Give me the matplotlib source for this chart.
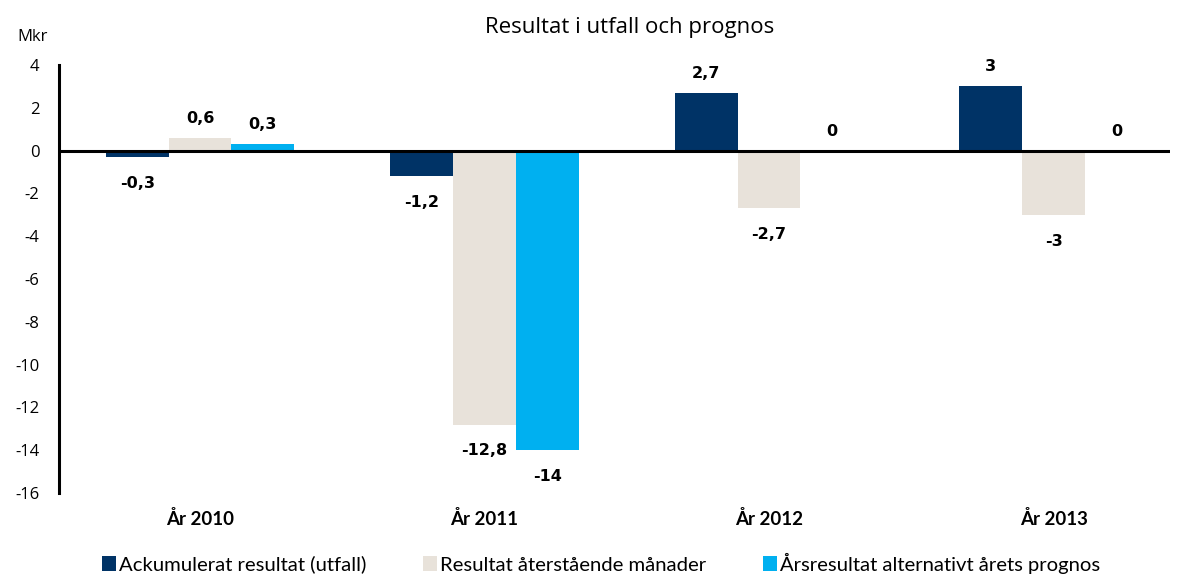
import matplotlib
matplotlib.use("Agg")
import matplotlib.pyplot as plt
import numpy as np
from matplotlib.patches import Patch

categories = ["År 2010", "År 2011", "År 2012", "År 2013"]
series_names = ["Ackumulerat resultat (utfall)", "Resultat återstående månader",
                "Årsresultat alternativt årets prognos"]
ackumulerat = [-0.3, -1.2, 2.7, 3.0]
aterstaende = [0.6, -12.8, -2.7, -3.0]
arsresultat = [0.3, -14.0, 0.0, 0.0]
label_ack = ["-0,3", "-1,2", "2,7", "3"]
label_ater = ["0,6", "-12,8", "-2,7", "-3"]
label_ars = ["0,3", "-14", "0", "0"]
yticks = [4, 2, 0, -2, -4, -6, -8, -10, -12, -14, -16]
colors = ["#003366", "#E8E2DA", "#00B0F0"]

fig = plt.figure(figsize=(11.84, 5.75), dpi=100)
ax = fig.add_axes([59/1184, 1-493/575, (1170-59)/1184, (493-65)/575])

x = np.arange(len(categories))
w = 0.221
series = [ackumulerat, aterstaende, arsresultat]
labels = [label_ack, label_ater, label_ars]
for i, (vals, labs, c) in enumerate(zip(series, labels, colors)):
    xs = x + (i - 1) * w
    ax.bar(xs, vals, width=w, color=c, zorder=2)
    for xi, v, lab in zip(xs, vals, labs):
        if v >= 0:
            ax.annotate(lab, (xi, v), xytext=(0, 14), textcoords="offset points",
                        ha="center", va="center", fontsize=11.5, fontweight="bold",
                        family="DejaVu Sans")
        else:
            ax.annotate(lab, (xi, v), xytext=(0, -19), textcoords="offset points",
                        ha="center", va="center", fontsize=11.5, fontweight="bold",
                        family="DejaVu Sans")

ax.set_xlim(-(200-59)/284.5, (1170-200)/284.5)
ax.set_ylim(-16, 4)
ax.set_yticks(yticks)
ax.set_yticklabels([str(t) for t in yticks], family="Open Sans", fontsize=12)
ax.tick_params(axis="y", length=0, pad=14)
ax.set_xticks([])
for xi, cat in zip(x, categories):
    ax.text(xi, -0.06, cat, transform=ax.get_xaxis_transform(), ha="center", va="center",
            fontsize=13.5, fontweight="bold", family="Lato")
ax.axhline(0, color="black", lw=2.2, zorder=3)
for s in ["top", "right", "bottom"]:
    ax.spines[s].set_visible(False)
ax.spines["left"].set_linewidth(2.2)

fig.text(630/1184, 1-27/575, "Resultat i utfall och prognos", ha="center", va="center",
         fontsize=16, family="Open Sans")
fig.text(33/1184, 1-37/575, "Mkr", ha="center", va="center", fontsize=12, family="Open Sans")

handles = [Patch(facecolor=c, edgecolor="none") for c in colors]
fig.legend(handles, series_names, loc="center", bbox_to_anchor=(601/1184, 1-563/575),
           ncol=3, frameon=False, handlelength=0.7, handleheight=0.8,
           handletextpad=0.15, columnspacing=2.8, prop={"family": "Lato", "size": 14.6})

fig.savefig("out.png", dpi=100)
